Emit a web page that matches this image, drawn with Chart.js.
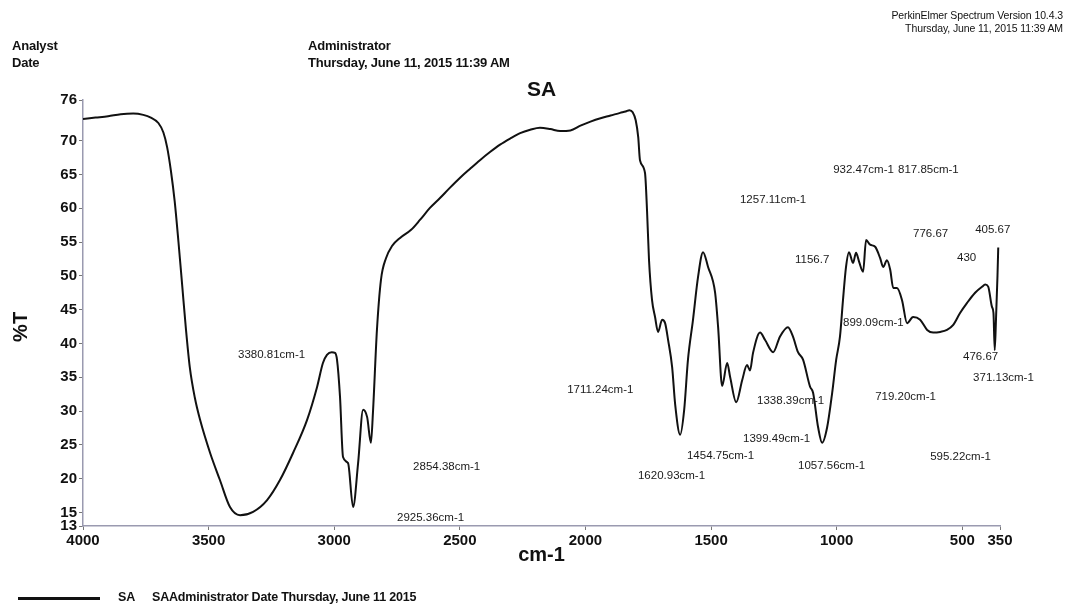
<!DOCTYPE html>
<html>
<head>
<meta charset="utf-8">
<script src="https://cdn.jsdelivr.net/npm/chart.js@4/dist/chart.umd.min.js"></script>
<style>
  html, body { margin: 0; padding: 0; background: #ffffff; }
  #wrap { position: relative; width: 1073px; height: 608px; overflow: hidden; font-family: "Liberation Sans", Arial, sans-serif; color: #111; }
  #c { position: absolute; left: 0; top: 0; }
  .t { position: absolute; white-space: nowrap; font-weight: bold; letter-spacing: -0.2px; }
  .hd { font-size: 13px; }
  .lg { font-size: 12.5px; }
  .sm { font-size: 10.5px; font-weight: normal; letter-spacing: -0.1px; color: #111; text-align: right; right: 10px; }
  #title { font-size: 21px; left: 527px; top: 77px; letter-spacing: 0; }
  #legline { position: absolute; left: 18px; top: 597px; width: 82px; height: 3px; background: #111; }
</style>
</head>
<body>
<div id="wrap">
  <canvas id="c" width="1073" height="608"></canvas>
  <div class="t sm" style="top:9px;">PerkinElmer Spectrum Version 10.4.3</div>
  <div class="t sm" style="top:22px;">Thursday, June 11, 2015 11:39 AM</div>
  <div class="t hd" style="left:12px;top:38px;">Analyst</div>
  <div class="t hd" style="left:12px;top:55px;">Date</div>
  <div class="t hd" style="left:308px;top:38px;">Administrator</div>
  <div class="t hd" style="left:308px;top:55px;">Thursday, June 11, 2015 11:39 AM</div>
  <div class="t" id="title">SA</div>
  <div id="legline"></div>
  <div class="t lg" style="left:118px;top:590px;">SA</div>
  <div class="t lg" style="left:152px;top:590px;">SAAdministrator Date Thursday, June 11 2015</div>
</div>
<script>
// ---- data (wavenumber cm-1, %T) ----
const wavenumbers = [4000,3950,3900,3850,3800,3760,3730,3700,3680,3665,3650,3635,3620,3605,3590,3575,3555,3534,3494,3455,3415,3375,3323,3268,3216,3164,3108,3068,3045,3029,3010,2997,2989,2977,2965,2945,2925,2905,2885,2869,2854,2846,2830,2814,2794,2770,2738,2694,2658,2620,2579,2540,2499,2460,2420,2380,2340,2300,2260,2220,2181,2140,2101,2060,2020,1980,1940,1900,1862,1840,1825,1812,1800,1790,1783,1763,1755,1747,1735,1723,1711,1695,1683,1671,1655,1643,1623,1607,1592,1572,1552,1532,1512,1484,1472,1456,1436,1424,1400,1376,1357,1345,1333,1305,1285,1253,1226,1194,1174,1154,1134,1106,1094,1074,1058,1038,1018,1002,987,975,963,951,935,923,911,895,883,867,847,827,815,800,787,775,760,740,720,696,668,640,616,588,561,537,509,481,449,421,409,397,382,376,371,366,360,357];
const transmittance = [73.2,73.4,73.6,73.9,74.0,73.8,73.4,72.6,71.2,69.0,65.5,61.0,55.0,48.5,42.0,36.5,32.0,28.7,23.8,19.8,15.8,14.6,15.1,16.8,19.8,23.8,28.7,33.6,37.1,38.3,38.7,38.6,37.6,32.1,23.2,22.3,15.8,22.3,30.2,29.1,25.3,29.7,42.0,49.4,52.6,54.4,55.6,56.8,58.3,60.0,61.5,63.0,64.5,65.8,67.1,68.3,69.4,70.3,71.1,71.6,71.9,71.7,71.4,71.5,72.2,72.8,73.3,73.7,74.1,74.3,74.5,74.2,73.0,70.5,67.1,65.2,59.7,52.3,46.4,43.9,41.7,43.5,43.0,40.5,36.5,31.0,26.5,30.2,37.6,43.5,49.8,53.5,51.3,47.5,42.4,33.7,37.1,35.0,31.3,34.6,36.8,36.0,38.6,41.6,40.5,38.7,41.0,42.4,41.0,38.7,37.6,33.6,32.7,27.6,25.3,27.6,32.7,37.6,41.0,46.4,51.3,53.5,51.9,53.4,52.1,50.6,55.3,54.6,54.3,52.6,51.3,52.3,50.9,48.2,48.2,46.4,43.0,43.9,43.5,42.0,41.6,41.7,42.0,42.7,44.5,46.0,47.5,48.4,48.7,48.4,45.4,44.5,39.0,43.5,50.0,54.2];

const xTickValues = [4000,3500,3000,2500,2000,1500,1000,500,350];
const yTickValues = [13,15,20,25,30,35,40,45,50,55,60,65,70,76];

// peak annotations: text, anchor wavenumber (left edge of text), anchor %T (text middle)
const peakLabels = ["3380.81cm-1","2854.38cm-1","2925.36cm-1","1711.24cm-1","1620.93cm-1","1454.75cm-1","1399.49cm-1","1338.39cm-1","1257.11cm-1","1156.7","1057.56cm-1","932.47cm-1","817.85cm-1","899.09cm-1","776.67","719.20cm-1","595.22cm-1","430","405.67","476.67","371.13cm-1"];
const peakLabelX = [3383,2686,2750,2073,1791,1596,1373,1317,1385,1166,1154,1014,756,975,696,847,628,521,449,497,457];
const peakLabelY = [38.3,21.7,14.2,33.1,20.4,23.4,25.9,31.5,61.2,52.3,21.9,65.7,65.7,43.0,56.2,32.1,23.2,52.6,56.8,38.0,34.9];

const points = wavenumbers.map((w, i) => ({x: w, y: transmittance[i]}));

const FONT = "'Liberation Sans', Arial, sans-serif";

const peakLabelPlugin = {
  id: 'peakLabels',
  afterDatasetsDraw(chart) {
    const {ctx, scales: {x, y}} = chart;
    ctx.save();
    ctx.font = "11.5px " + FONT;
    ctx.fillStyle = '#1a1a1a';
    ctx.textAlign = 'left';
    ctx.textBaseline = 'middle';
    peakLabels.forEach((txt, i) => {
      ctx.fillText(txt, x.getPixelForValue(peakLabelX[i]), y.getPixelForValue(peakLabelY[i]));
    });
    ctx.restore();
  }
};

new Chart(document.getElementById('c'), {
  type: 'line',
  data: {
    datasets: [{
      label: 'SA',
      data: points,
      borderColor: '#111',
      borderWidth: 2,
      pointRadius: 0,
      fill: false,
      cubicInterpolationMode: 'monotone'
    }]
  },
  options: {
    responsive: false,
    animation: false,
    layout: { padding: { left: 6, top: 100, right: 73, bottom: 40 } },
    plugins: { legend: { display: false }, title: { display: false }, tooltip: { enabled: false } },
    scales: {
      x: {
        type: 'linear',
        reverse: true,
        min: 350,
        max: 4000,
        afterBuildTicks(scale) { scale.ticks = xTickValues.map(v => ({value: v})); },
        afterFit(scale) { scale.height = 42; },
        ticks: {
          autoSkip: false, maxRotation: 0, padding: 2,
          color: '#111',
          font: { family: FONT, size: 15, weight: 'bold' },
          callback: v => String(v)
        },
        grid: { drawOnChartArea: false, drawTicks: true, tickLength: 4, color: '#777' },
        border: { display: true, color: '#9a9ab0', dash: [3, 2], width: 1.5 },
        title: { display: true, text: 'cm-1', color: '#111', padding: { top: 0, bottom: 1 },
                 font: { family: FONT, size: 20, weight: 'bold' } }
      },
      y: {
        type: 'linear',
        min: 13,
        max: 76,
        afterBuildTicks(scale) { scale.ticks = yTickValues.map(v => ({value: v})); },
        afterFit(scale) { scale.width = 77; },
        ticks: {
          autoSkip: false, padding: 2,
          color: '#111',
          font: { family: FONT, size: 15, weight: 'bold' },
          callback: v => String(v)
        },
        grid: { drawOnChartArea: false, drawTicks: true, tickLength: 4, color: '#777' },
        border: { display: true, color: '#9a9ab0', dash: [3, 2], width: 1.5 },
        title: { display: true, text: '%T' + '\u00a0'.repeat(5), color: '#111', padding: { top: 3, bottom: 0 },
                 font: { family: FONT, size: 20, weight: 'bold' } }
      }
    }
  },
  plugins: [peakLabelPlugin]
});
</script>
</body>
</html>
